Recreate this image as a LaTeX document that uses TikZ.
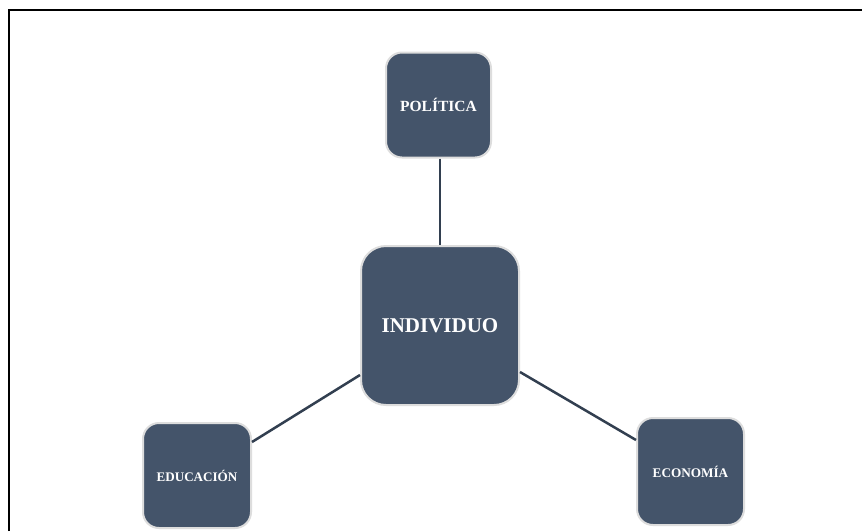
\documentclass[tikz,border=0pt]{standalone}
\usepackage{fontspec}
\setmainfont{Liberation Serif}
\definecolor{boxfill}{HTML}{44546A}
\definecolor{boxedge}{HTML}{DDDDDD}
\definecolor{linkcol}{HTML}{323F50}
\begin{document}
\begin{tikzpicture}[x=1pt,y=-1pt,
  topic/.style={draw=boxedge,line width=2pt,fill=boxfill,rounded corners=16pt,
    text=white,font=\bfseries,minimum width=105pt,minimum height=105pt,inner sep=0pt},
  link/.style={draw=linkcol,line width=2.5pt}]
\useasboundingbox (0,0) rectangle (862,531);
\fill[white] (0,0) rectangle (862,531);
\draw[line width=2pt,black] (9,531) -- (9,10) -- (862,10);
\node[topic,rounded corners=25pt,minimum width=158pt,minimum height=159pt,font=\bfseries\fontsize{21}{24}\selectfont] (ind) at (440,325.5) {INDIVIDUO};
\node[topic,font=\bfseries\fontsize{15.5}{18}\selectfont] (pol) at (438.5,105) {POLÍTICA};
\node[topic,minimum width=108pt,font=\bfseries\fontsize{13.1}{15}\selectfont] (edu) at (197,475.5) {EDUCACIÓN};
\node[topic,minimum width=107pt,minimum height=107pt,font=\bfseries\fontsize{13.2}{15}\selectfont] (eco) at (690.5,471.5) {ECONOMÍA};
\coordinate (polb) at (440,158);
\coordinate (indt) at (440,245);
\draw[link] (pol.south -| indt) -- (ind.north);
\draw[link] (edu.east |- 0,442) -- (ind.west |- 0,375);
\draw[link] (eco.west |- 0,440) -- (ind.east |- 0,372);
\end{tikzpicture}
\end{document}
